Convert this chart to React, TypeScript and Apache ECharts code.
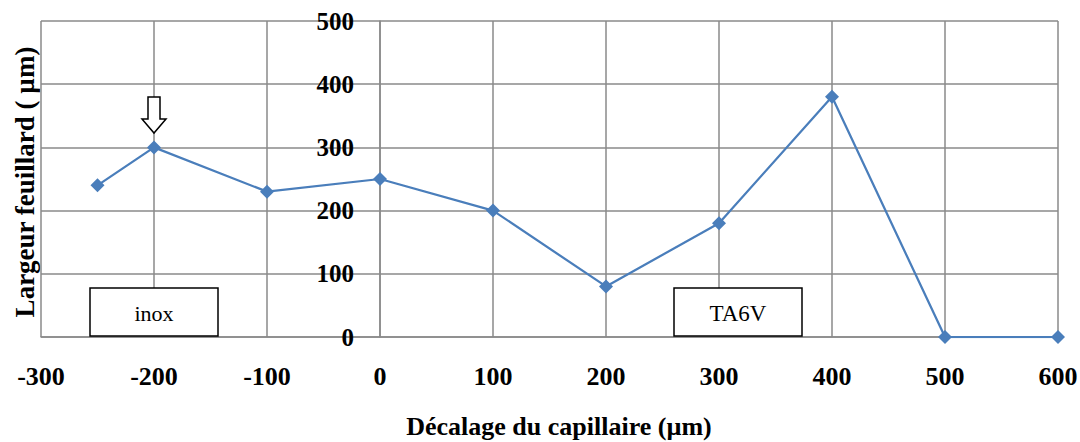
import React, { useEffect, useRef } from "react";
import * as echarts from "echarts";

const xValues = [-250, -200, -100, 0, 100, 200, 300, 400, 500, 600];
const yValues = [240, 300, 230, 250, 200, 80, 180, 380, 0, 0];
const xTitle = "Décalage du capillaire (µm)";
const yTitle = "Largeur feuillard ( µm)";
const boxLabels = ["inox", "TA6V"];

const FONT = "'Liberation Serif', 'Times New Roman', serif";

export default function App() {
  const ref = useRef<HTMLDivElement>(null);
  useEffect(() => {
    if (!ref.current) return;
    const chart = echarts.init(ref.current, undefined, { renderer: "svg" });
    const grid = { left: 41, top: 21, width: 1017, height: 316, outerBoundsMode: "none", containLabel: false };
    chart.setOption({
      animation: false,
      backgroundColor: "#ffffff",
      grid,
      xAxis: {
        type: "value",
        min: -300,
        max: 600,
        interval: 100,
        axisLine: { show: true, lineStyle: { color: "#8a8a8a", width: 1.5 } },
        axisTick: { show: false },
        axisLabel: { fontFamily: FONT, fontSize: 26, fontWeight: "bold", color: "#000", margin: 26 },
        splitLine: { show: true, lineStyle: { color: "#8a8a8a", width: 1.5 } },
      },
      yAxis: {
        type: "value",
        min: 0,
        max: 500,
        interval: 100,
        offset: -339,
        axisLine: { show: true, onZero: false, lineStyle: { color: "#8a8a8a", width: 1.5 } },
        axisTick: { show: false },
        axisLabel: { fontFamily: FONT, fontSize: 25, fontWeight: "bold", color: "#000", margin: 26 },
        splitLine: { show: true, lineStyle: { color: "#8a8a8a", width: 1.5 } },
      },
      series: [
        {
          type: "line",
          data: xValues.map((x, i) => [x, yValues[i]]),
          symbol: "diamond",
          symbolSize: 14,
          itemStyle: { color: "#4A7EBB" },
          lineStyle: { color: "#4A7EBB", width: 2.25 },
          z: 5,
        },
      ],
      graphic: [
        {
          type: "text",
          x: 559,
          y: 426,
          style: { text: xTitle, font: `bold 26px ${FONT}`, fill: "#000", align: "center", verticalAlign: "middle" },
        },
        {
          type: "text",
          x: 25,
          y: 182,
          rotation: Math.PI / 2,
          style: { text: yTitle, font: `bold 27px ${FONT}`, fill: "#000", align: "center", verticalAlign: "middle" },
        },
        {
          type: "rect",
          shape: { x: 90, y: 288, width: 128, height: 48 },
          style: { fill: "#fff", stroke: "#000", lineWidth: 1.5 },
          z: 10,
        },
        {
          type: "text",
          x: 154,
          y: 313,
          style: { text: boxLabels[0], font: `22px ${FONT}`, fill: "#000", align: "center", verticalAlign: "middle" },
          z: 11,
        },
        {
          type: "rect",
          shape: { x: 674, y: 288, width: 128, height: 48 },
          style: { fill: "#fff", stroke: "#000", lineWidth: 1.5 },
          z: 10,
        },
        {
          type: "text",
          x: 738,
          y: 313,
          style: { text: boxLabels[1], font: `23px ${FONT}`, fill: "#000", align: "center", verticalAlign: "middle" },
          z: 11,
        },
        {
          type: "polygon",
          shape: {
            points: [
              [148, 97],
              [160, 97],
              [160, 119],
              [166, 119],
              [154, 133],
              [142, 119],
              [148, 119],
            ],
          },
          style: { fill: "#fff", stroke: "#000", lineWidth: 1.5 },
          z: 10,
        },
      ],
    });
    return () => chart.dispose();
  }, []);
  return (
    <div
      ref={ref}
      style={{ position: "fixed", left: 0, top: 0, width: 1080, height: 442, background: "#fff" }}
    />
  );
}
